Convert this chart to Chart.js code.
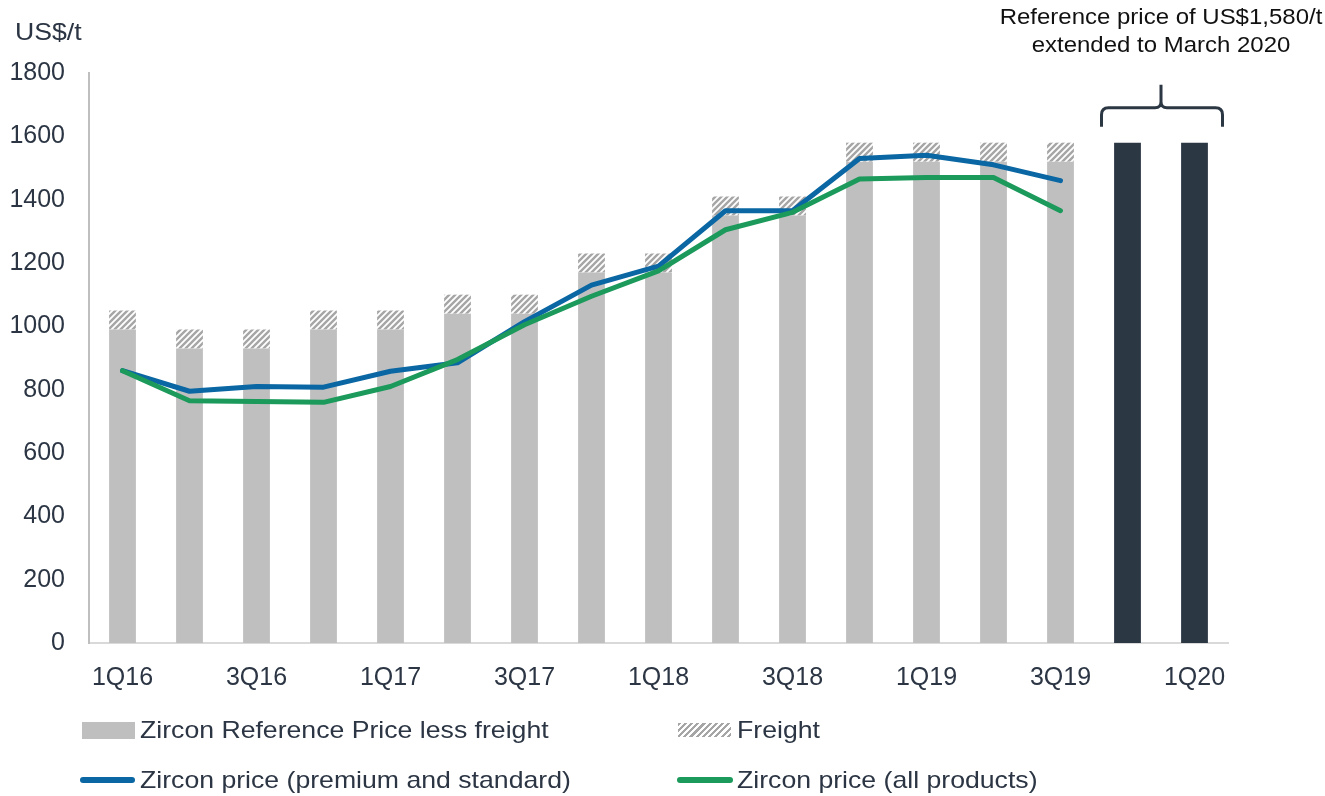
<!DOCTYPE html>
<html>
<head>
<meta charset="utf-8">
<script src="https://cdn.jsdelivr.net/npm/chart.js@4/dist/chart.umd.min.js"></script>
<style>
  html, body { margin: 0; padding: 0; background: #fff; }
  #wrap { position: relative; width: 1325px; height: 796px; font-family: "Liberation Sans", Arial, sans-serif; color: #2b3543; }
  #chart { position: absolute; left: 0; top: 0; }
  .lg { position: absolute; font-size: 24px; line-height: 28px; white-space: nowrap; transform: scaleX(1.11); transform-origin: left center; }
  .sw { position: absolute; }
</style>
</head>
<body>
<div id="wrap">
  <canvas id="chart" width="1325" height="796"></canvas>
  <div class="sw" style="left:82px;top:722px;width:53px;height:17px;background:#bfbfbf"></div>
  <div class="lg" style="left:140px;top:716px">Zircon Reference Price less freight</div>
  <div class="sw" style="left:678px;top:723px;width:53px;height:14px;background:repeating-linear-gradient(135deg,#a6a6a6 0 2.2px,#fff 2.2px 4.4px)"></div>
  <div class="lg" style="left:737px;top:716px">Freight</div>
  <div class="sw" style="left:80px;top:777px;width:55px;height:6px;border-radius:3px;background:#0a67a3"></div>
  <div class="lg" style="left:140px;top:766px">Zircon price (premium and standard)</div>
  <div class="sw" style="left:677px;top:777px;width:56px;height:6px;border-radius:3px;background:#1b9a5b"></div>
  <div class="lg" style="left:737px;top:766px">Zircon price (all products)</div>
</div>
<script>
// Zircon reference price vs realised prices, US$/t

const quarters = ['1Q16', '2Q16', '3Q16', '4Q16', '1Q17', '2Q17', '3Q17', '4Q17', '1Q18',
    '2Q18', '3Q18', '4Q18', '1Q19', '2Q19', '3Q19', '4Q19', '1Q20'];

const lessFreight = [990, 930, 930, 990, 990, 1040, 1040, 1170, 1170, 1350, 1350, 1520, 1520, 1520, 1520, null, null];
const freight = [60, 60, 60, 60, 60, 60, 60, 60, 60, 60, 60, 60, 60, 60, 60, null, null];
const extendedRef = [null, null, null, null, null, null, null, null, null, null, null, null, null, null, null, 1580, 1580];
const premiumStandard = [860, 795, 810, 808, 858, 885, 1015, 1130, 1190, 1365, 1365, 1530, 1540, 1510, 1460, null, null];
const allProducts = [860, 765, 763, 760, 810, 895, 1005, 1095, 1175, 1305, 1360, 1465, 1470, 1470, 1365, null, null];

const yTicks = [0, 200, 400, 600, 800, 1000, 1200, 1400, 1600, 1800];

const TEXT = '#2b3543';
const FONT = '"Liberation Sans", Arial, sans-serif';

const canvas = document.getElementById('chart');
const ctx = canvas.getContext('2d');

// diagonal hatch for the freight part
function hatchPattern() {
    const c = document.createElement('canvas');
    c.width = 6; c.height = 6;
    const g = c.getContext('2d');
    g.fillStyle = '#ffffff';
    g.fillRect(0, 0, 6, 6);
    g.strokeStyle = '#a6a6a6';
    g.lineWidth = 2.4;
    g.beginPath();
    g.moveTo(-1, 7); g.lineTo(7, -1);
    g.moveTo(-1, 1); g.lineTo(1, -1);
    g.moveTo(5, 7); g.lineTo(7, 5);
    g.stroke();
    return ctx.createPattern(c, 'repeat');
}

// text stretched a little wider, like the original
function wideText(c, txt, x, y, sx) {
    c.save();
    c.translate(x, y);
    c.scale(sx, 1);
    c.fillText(txt, 0, 0);
    c.restore();
}

const extras = {
    id: 'extras',
    afterDraw(chart) {
        const c = chart.ctx;
        const x = chart.scales.x, y = chart.scales.y;
        c.save();
        c.fillStyle = TEXT;
        c.font = '24px ' + FONT;
        c.textBaseline = 'middle';
        c.textAlign = 'left';
        wideText(c, 'US$/t', 15, 33, 1.11);

        // bracket over the extended reference price bars
        const x1 = x.getPixelForValue(15), x2 = x.getPixelForValue(16);
        const mid = (x1 + x2) / 2;
        const left = x1 - 26, right = x2 + 28;
        const barTop = y.getPixelForValue(1580);
        const yEnd = barTop - 16, yBar = barTop - 35, yTop = barTop - 58;
        c.strokeStyle = '#2c3744';
        c.lineWidth = 3;
        c.beginPath();
        c.moveTo(left, yEnd);
        c.lineTo(left, yBar + 7);
        c.quadraticCurveTo(left, yBar, left + 7, yBar);
        c.lineTo(mid - 6, yBar);
        c.quadraticCurveTo(mid, yBar, mid, yBar - 6);
        c.lineTo(mid, yTop);
        c.moveTo(mid, yBar - 6);
        c.quadraticCurveTo(mid, yBar, mid + 6, yBar);
        c.lineTo(right - 7, yBar);
        c.quadraticCurveTo(right, yBar, right, yBar + 7);
        c.lineTo(right, yEnd);
        c.stroke();

        c.fillStyle = '#111';
        c.font = '22px ' + FONT;
        c.textAlign = 'center';
        wideText(c, 'Reference price of US$1,580/t', mid, 18, 1.09);
        wideText(c, 'extended to March 2020', mid, 46, 1.09);
        c.restore();
    }
};

new Chart(ctx, {
    type: 'bar',
    data: {
        labels: quarters,
        datasets: [
            {
                type: 'line',
                label: 'Zircon price (all products)',
                data: allProducts,
                borderColor: '#1b9a5b',
                borderWidth: 5,
                pointRadius: 0,
                tension: 0,
                borderCapStyle: 'round',
                borderJoinStyle: 'round',
                stack: 'all',
                order: 0
            },
            {
                type: 'line',
                label: 'Zircon price (premium and standard)',
                data: premiumStandard,
                borderColor: '#0a67a3',
                borderWidth: 5,
                pointRadius: 0,
                tension: 0,
                borderCapStyle: 'round',
                borderJoinStyle: 'round',
                stack: 'prem',
                order: 1
            },
            {
                label: 'Zircon Reference Price less freight',
                data: lessFreight,
                backgroundColor: '#bfbfbf',
                stack: 'ref',
                order: 2
            },
            {
                label: 'Freight',
                data: freight,
                backgroundColor: hatchPattern(),
                stack: 'ref',
                order: 2
            },
            {
                label: 'Reference price extended',
                data: extendedRef,
                backgroundColor: '#2c3744',
                stack: 'ref',
                order: 2
            }
        ]
    },
    options: {
        responsive: false,
        animation: false,
        layout: { padding: { left: 0, top: 73, right: 97, bottom: 0 } },
        datasets: { bar: { barPercentage: 0.4, categoryPercentage: 1 } },
        plugins: { legend: { display: false }, tooltip: { enabled: false } },
        scales: {
            x: {
                grid: { display: false, drawTicks: false },
                border: { display: true, color: '#d9d9d9', width: 2 },
                ticks: {
                    autoSkip: false,
                    maxRotation: 0,
                    padding: 20,
                    color: TEXT,
                    font: { family: FONT, size: 25 },
                    callback: (v, i) => (i % 2 === 0 ? quarters[i] : '')
                },
                afterFit: s => { s.height = 153; }
            },
            y: {
                stacked: true,
                min: 0,
                max: 1800,
                afterBuildTicks: s => { s.ticks = yTicks.map(v => ({ value: v })); },
                grid: { display: false, drawTicks: false },
                border: { display: true, color: '#bfbfbf', width: 2 },
                ticks: {
                    padding: 24,
                    color: TEXT,
                    font: { family: FONT, size: 25 },
                    callback: v => String(v)
                },
                afterFit: s => { s.width = 89; }
            }
        }
    },
    plugins: [extras]
});
</script>
</body>
</html>
